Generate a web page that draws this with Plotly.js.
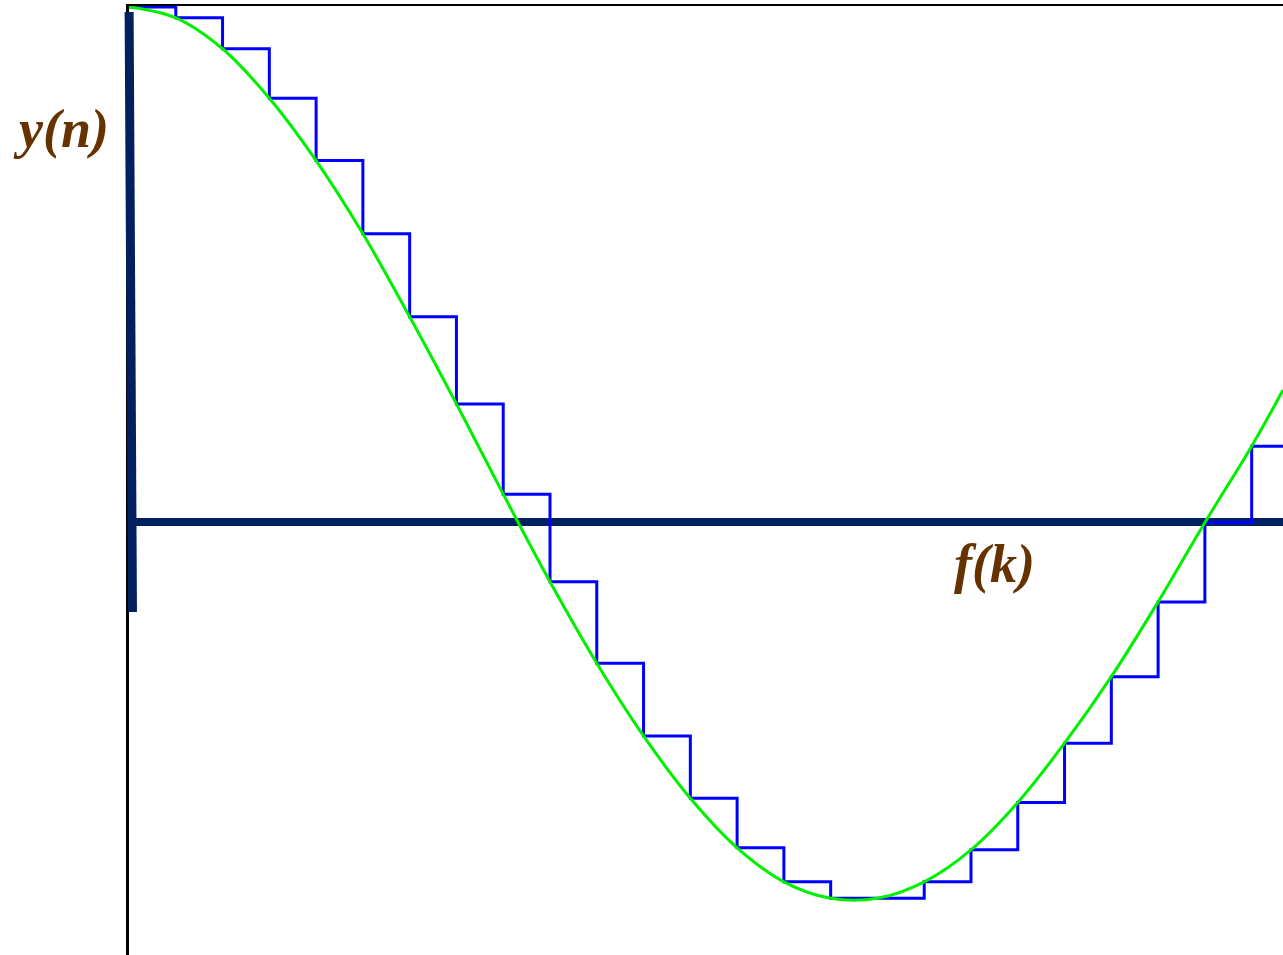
<!DOCTYPE html>
<html>
<head>
<meta charset="utf-8">
<script src="https://cdn.plot.ly/plotly-3.0.1.min.js"></script>
<style>
  html, body { margin: 0; padding: 0; background: #ffffff; }
  #chart { width: 1283px; height: 955px; }
</style>
</head>
<body>
<div id="chart"></div>
<script>
// Sample index k of the held signal
const sampleIndex = [0, 1, 2, 3, 4, 5, 6, 7, 8, 9, 10, 11, 12,
                     13, 14, 15, 16, 17, 18, 19, 20, 21, 22, 23, 24];

// Signal value taken at each sample instant (held until the next one)
const sampleValue = [1.000, 0.979, 0.919, 0.823, 0.702, 0.560, 0.399, 0.230, 0.055,
                     -0.115, -0.273, -0.414, -0.535, -0.631, -0.697, -0.729, -0.729,
                     -0.697, -0.635, -0.543, -0.428, -0.299, -0.154, 0.000, 0.148];

// Continuous signal value at the right edge of the time axis
const edgeIndex = 24.67;
const edgeValue = 0.257;

// Axis labels
const yLabel = 'y(n)';
const xLabel = 'f(k)';

const navy = '#002060';
const brown = '#663300';

// Zero-order hold: each sample is held across one sampling interval
const holdX = sampleIndex.concat([edgeIndex]);
const holdY = sampleValue.concat([sampleValue[sampleValue.length - 1]]);

// Continuous signal passes through every sample instant
const curveX = sampleIndex.concat([edgeIndex]);
const curveY = sampleValue.concat([edgeValue]);

const traces = [
  {
    x: holdX, y: holdY, type: 'scatter', mode: 'lines',
    line: { shape: 'hv', color: '#0000ff', width: 3 },
    hoverinfo: 'skip'
  },
  {
    x: curveX, y: curveY, type: 'scatter', mode: 'lines',
    line: { shape: 'spline', smoothing: 1, color: '#00f000', width: 3 },
    hoverinfo: 'skip'
  }
];

const labelFont = { family: 'Liberation Serif, Times New Roman, serif', size: 54, color: brown };

const layout = {
  width: 1283, height: 955,
  margin: { l: 129, r: 0, t: 6, b: 0, pad: 0 },
  paper_bgcolor: '#ffffff', plot_bgcolor: '#ffffff',
  showlegend: false,
  hovermode: false,
  xaxis: {
    range: [0, edgeIndex], side: 'top',
    showline: true, linecolor: '#000000', linewidth: 2.5,
    showgrid: false, zeroline: false, showticklabels: false, ticks: '',
    fixedrange: true
  },
  yaxis: {
    range: [-0.839, 1.0019],
    showline: true, linecolor: '#000000', linewidth: 3,
    showgrid: false, showticklabels: false, ticks: '',
    zeroline: true, zerolinecolor: navy, zerolinewidth: 8,
    fixedrange: true
  },
  shapes: [
    {
      // heavy upper part of the vertical axis
      type: 'line', xref: 'paper', yref: 'paper', layer: 'above',
      x0: 0.0001, y0: 0.9937, x1: 0.003, y1: 0.3614,
      line: { color: navy, width: 9 }
    }
  ],
  annotations: [
    {
      xref: 'paper', yref: 'paper', x: -0.0589, y: 0.8705,
      xanchor: 'center', yanchor: 'middle', showarrow: false,
      text: '<b><i>' + yLabel + '</i></b>', font: labelFont
    },
    {
      xref: 'paper', yref: 'paper', x: 0.7504, y: 0.4125,
      xanchor: 'center', yanchor: 'middle', showarrow: false,
      text: '<b><i>' + xLabel + '</i></b>', font: labelFont
    }
  ]
};

Plotly.newPlot('chart', traces, layout, { displayModeBar: false, staticPlot: true });
</script>
</body>
</html>
